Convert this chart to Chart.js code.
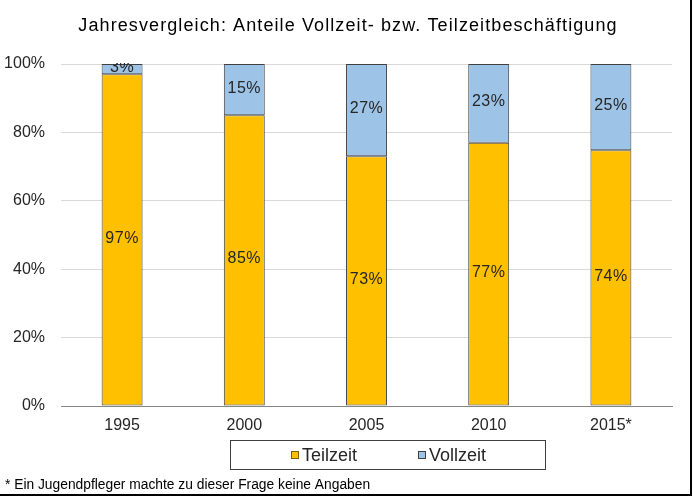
<!DOCTYPE html>
<html>
<head>
<meta charset="utf-8">
<script src="https://cdn.jsdelivr.net/npm/chart.js@4"></script>
<style>
  html, body { margin: 0; padding: 0; background: #fff; }
  #wrap { position: relative; width: 693px; height: 498px; }
</style>
</head>
<body>
<div id="wrap"><canvas id="chart" width="693" height="498"></canvas></div>
<script>
const years = ["1995", "2000", "2005", "2010", "2015*"]
const teilzeit = [97, 85, 73, 77, 74]
const vollzeit = [3, 15, 27, 23, 25]
const yTicks = [0, 20, 40, 60, 80, 100]

const FONT = "'Liberation Sans', Arial, sans-serif"
const TEXT = "#262626"
const TITLE = "Jahresvergleich: Anteile Vollzeit- bzw. Teilzeitbeschäftigung"
const FOOTNOTE = "* Ein Jugendpfleger machte zu dieser Frage keine Angaben"

// 100%-stacked like the original: each year is scaled to its own total
const totals = teilzeit.map((t, i) => t + vollzeit[i])
const share = arr => arr.map((v, i) => v / totals[i] * 100)

const segmentLabels = {
  id: "segmentLabels",
  afterDatasetsDraw(chart) {
    const { ctx } = chart
    ctx.save()
    ctx.beginPath()
    ctx.rect(chart.chartArea.left, chart.chartArea.top - 1, chart.chartArea.width, chart.chartArea.height + 1)
    ctx.clip()
    ctx.font = `16px ${FONT}`
    ctx.letterSpacing = "0.5px"
    ctx.fillStyle = TEXT
    ctx.textAlign = "center"
    ctx.textBaseline = "middle"
    chart.data.datasets.forEach((ds, di) => {
      chart.getDatasetMeta(di).data.forEach((bar, i) => {
        const y = (bar.y + bar.base) / 2
        ctx.fillText(`${ds.raw[i]}%`, bar.x, y - 1.5)
      })
    })
    ctx.restore()
  }
}

const frame = {
  id: "frame",
  afterDraw(chart) {
    const { ctx } = chart
    ctx.save()
    // title
    ctx.font = `18px ${FONT}`
    ctx.letterSpacing = "1.1px"
    ctx.fillStyle = "#000"
    ctx.textAlign = "center"
    ctx.textBaseline = "alphabetic"
    ctx.fillText(TITLE, 348, 31)
    ctx.letterSpacing = "0px"

    // legend box
    ctx.strokeStyle = "#404040"
    ctx.lineWidth = 1
    ctx.strokeRect(230.5, 440.5, 315, 29)
    const items = [
      { label: "Teilzeit", color: "#FFC000", edge: "#7F6000", x: 291 },
      { label: "Vollzeit", color: "#9DC3E6", edge: "#404040", x: 418 }
    ]
    ctx.font = `18px ${FONT}`
    ctx.textAlign = "left"
    items.forEach(it => {
      ctx.fillStyle = it.color
      ctx.fillRect(it.x, 451, 8, 8)
      ctx.strokeStyle = it.edge
      ctx.strokeRect(it.x + 0.5, 451.5, 7, 7)
      ctx.fillStyle = TEXT
      ctx.fillText(it.label, it.x + 11, 461)
    })

    // footnote
    ctx.font = `13.8px ${FONT}`
    ctx.fillStyle = "#000"
    ctx.fillText(FOOTNOTE, 5, 488.5)

    // outer border (right and bottom visible)
    ctx.strokeStyle = "#000"
    ctx.lineWidth = 2
    ctx.beginPath()
    ctx.moveTo(0, 495)
    ctx.lineTo(691, 495)
    ctx.lineTo(691, 0)
    ctx.stroke()
    ctx.restore()
  }
}

new Chart(document.getElementById("chart"), {
  type: "bar",
  data: {
    labels: years,
    datasets: [
      {
        label: "Teilzeit",
        data: share(teilzeit),
        raw: teilzeit,
        backgroundColor: "#FFC000",
        borderColor: "#404040",
        borderWidth: 1,
        borderSkipped: false,
        barPercentage: 0.335,
        categoryPercentage: 1
      },
      {
        label: "Vollzeit",
        data: share(vollzeit),
        raw: vollzeit,
        backgroundColor: "#9DC3E6",
        borderColor: "#404040",
        borderWidth: 1,
        borderSkipped: false,
        barPercentage: 0.335,
        categoryPercentage: 1
      }
    ]
  },
  options: {
    responsive: false,
    animation: false,
    layout: { padding: { left: 0, right: 21, top: 64, bottom: 58 } },
    plugins: {
      legend: { display: false },
      tooltip: { enabled: false },
      title: { display: false }
    },
    scales: {
      x: {
        stacked: true,
        grid: { display: false, drawTicks: false },
        border: { color: "#868686" },
        ticks: { color: TEXT, font: { family: FONT, size: 16 }, padding: 10 },
        afterFit: s => { s.height = 34 }
      },
      y: {
        stacked: true,
        min: 0,
        max: 100,
        afterBuildTicks: s => { s.ticks = yTicks.map(v => ({ value: v })) },
        grid: { color: "#D9D9D9", drawTicks: false },
        border: { display: false },
        ticks: { color: TEXT, font: { family: FONT, size: 16 }, padding: 16, callback: v => `${v}%` },
        afterFit: s => { s.width = 61 }
      }
    }
  },
  plugins: [segmentLabels, frame]
})
</script>
</body>
</html>
